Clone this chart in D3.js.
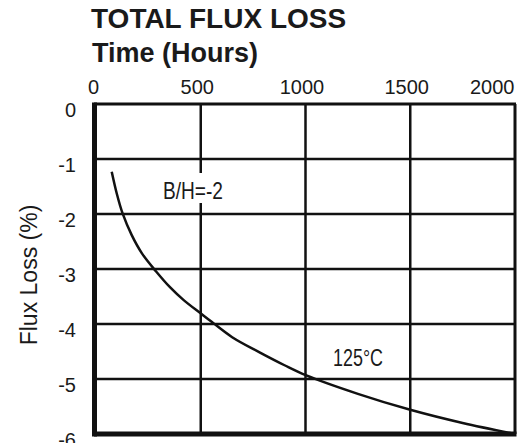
<!DOCTYPE html>
<html>
<head>
<meta charset="utf-8">
<script src="https://cdn.jsdelivr.net/npm/d3@7"></script>
<style>
  body { margin: 0; background: #fff; }
  text { font-family: "Liberation Sans", Arial, sans-serif; fill: #1a1a1a; }
</style>
</head>
<body>
<div id="chart"></div>
<script>
// values
const hours = [75, 100, 127, 170, 220, 286, 353, 420, 501, 552, 650, 783, 900, 1001, 1250, 1500, 1750, 2000]
const fluxLoss = [-1.23, -1.64, -1.99, -2.38, -2.72, -3.04, -3.33, -3.57, -3.81, -3.96, -4.24, -4.52, -4.75, -4.93, -5.27, -5.56, -5.8, -6.0]
const xTicks = [0, 500, 1000, 1500, 2000]
const yTicks = [0, -1, -2, -3, -4, -5, -6]

let width = 530
let height = 443
let mLeft = 96, mRight = 515, mTop = 104, mBottom = 434

let svg = d3.select("#chart")
  .append("svg")
  .attr("width", width)
  .attr("height", height)

let x = d3.scaleLinear().domain([0, 2000]).range([mLeft, mRight])
let y = d3.scaleLinear().domain([0, -6]).range([mTop, mBottom])

// titles
svg.append("text")
  .attr("x", 91).attr("y", 28)
  .style("font-size", "28px").style("font-weight", "bold")
  .text("TOTAL FLUX LOSS")
svg.append("text")
  .attr("x", 92).attr("y", 62)
  .style("font-size", "27px").style("font-weight", "bold")
  .text("Time (Hours)")

// grid
svg.append("g").selectAll("line")
  .data(xTicks.slice(1, -1))
  .enter().append("line")
  .attr("x1", d => x(d)).attr("x2", d => x(d))
  .attr("y1", mTop).attr("y2", mBottom)
  .style("stroke", "#111").style("stroke-width", 2.5)

svg.append("g").selectAll("line")
  .data(yTicks.slice(1, -1))
  .enter().append("line")
  .attr("x1", mLeft).attr("x2", mRight)
  .attr("y1", d => y(d)).attr("y2", d => y(d))
  .style("stroke", "#111").style("stroke-width", 2.5)

// frame
svg.append("line").attr("x1", mLeft - 2).attr("x2", mRight + 1).attr("y1", mTop).attr("y2", mTop)
  .style("stroke", "#111").style("stroke-width", 3)
svg.append("line").attr("x1", mRight).attr("x2", mRight).attr("y1", mTop).attr("y2", mBottom)
  .style("stroke", "#111").style("stroke-width", 3)
svg.append("line").attr("x1", mLeft - 2).attr("x2", mRight + 1.5).attr("y1", mBottom).attr("y2", mBottom)
  .style("stroke", "#111").style("stroke-width", 5)
svg.append("line").attr("x1", mLeft - 1.5).attr("x2", mLeft - 1.5).attr("y1", mTop - 1.5).attr("y2", mBottom + 2.5)
  .style("stroke", "#111").style("stroke-width", 5)

// x tick labels on top
let xAxis = svg.append("g")
  .attr("transform", "translate(0," + mTop + ")")
  .call(d3.axisTop(x).tickValues(xTicks).tickSize(0).tickPadding(10).tickFormat(d => String(d)))
xAxis.select(".domain").remove()
xAxis.selectAll("text")
  .style("font-size", "20px").style("font-family", "Liberation Sans, Arial, sans-serif").attr("fill", "#1a1a1a")
  .attr("text-anchor", (d, i) => i == xTicks.length - 1 ? "end" : "middle")
  .attr("dx", (d, i) => i == 0 ? -3 : i == xTicks.length - 1 ? -1 : -4)

// y tick labels
let yAxis = svg.append("g")
  .attr("transform", "translate(" + mLeft + ",0)")
  .call(d3.axisLeft(y).tickValues(yTicks).tickSize(0).tickPadding(20).tickFormat(d => String(d)))
yAxis.select(".domain").remove()
yAxis.selectAll("text")
  .style("font-size", "20px").style("font-family", "Liberation Sans, Arial, sans-serif").attr("fill", "#1a1a1a")
  .attr("dy", "0.62em")

svg.append("text")
  .attr("transform", "rotate(-90)")
  .attr("x", -275).attr("y", 37)
  .style("text-anchor", "middle").style("font-size", "23px")
  .text("Flux Loss (%)")

// curve
let line = d3.line()
  .x((d, i) => x(hours[i]))
  .y(d => y(d))
  .curve(d3.curveCatmullRom)

svg.append("path")
  .datum(fluxLoss)
  .attr("d", line)
  .style("fill", "none")
  .style("stroke", "#111")
  .style("stroke-width", 2.5)

// annotations (narrow lettering, white box under B/H label)
svg.append("rect").attr("x", 161).attr("y", 173).attr("width", 64).attr("height", 30).style("fill", "#fff")
svg.append("text").attr("x", 163).attr("y", 198.5).style("font-size", "24px")
  .attr("textLength", 60).attr("lengthAdjust", "spacingAndGlyphs").text("B/H=-2")
svg.append("text").attr("x", 333).attr("y", 366).style("font-size", "24px")
  .attr("textLength", 50).attr("lengthAdjust", "spacingAndGlyphs").text("125°C")
</script>
</body>
</html>
